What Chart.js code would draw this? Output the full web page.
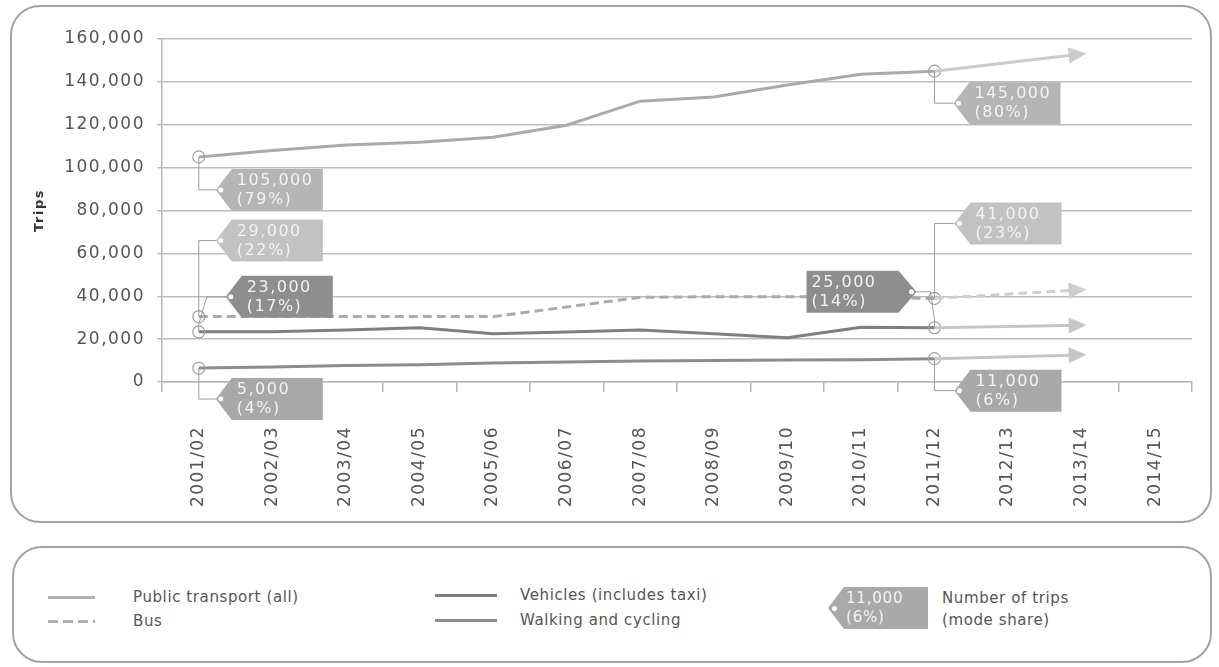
<!DOCTYPE html>
<html><head><meta charset="utf-8">
<script src="https://cdn.jsdelivr.net/npm/chart.js@4"></script>
<style>
html,body{margin:0;padding:0;background:#fff;width:1219px;height:667px;overflow:hidden;font-family:"DejaVu Sans",sans-serif;}
#wrap{position:absolute;left:0;top:0;width:1219px;height:525px;}
#frame1{position:absolute;left:10px;top:5px;width:1198px;height:514px;border:2px solid #a3a3a3;border-radius:30px;pointer-events:none;}
#frame2{position:absolute;left:12px;top:546px;width:1196px;height:113px;border:2px solid #a3a3a3;border-radius:30px;}
.lg{position:absolute;font-size:15px;color:#555;letter-spacing:0.6px;line-height:22px;white-space:nowrap}
.sw{position:absolute;height:3px;}
#tag{position:absolute;left:828px;top:587px;width:100px;height:42px;background:#a9a9a9;clip-path:polygon(16px 0,100% 0,100% 100%,16px 100%,0 50%);}
#hole{position:absolute;left:832px;top:606px;width:5px;height:5px;border-radius:50%;background:#fff;}
#tagtxt{position:absolute;left:846px;top:589px;font-size:15px;line-height:19px;color:#f2f2f2;letter-spacing:0.8px;}
</style></head>
<body>
<div id="wrap"><canvas id="c" width="1219" height="525"></canvas></div>
<div id="frame1"></div>
<div id="frame2"></div>
<div class="sw" style="left:48px;top:596px;width:47px;background:#b0b0b0"></div>
<div class="lg" style="left:133px;top:586px">Public transport (all)</div>
<div class="sw" style="left:48px;top:620px;width:47px;background:repeating-linear-gradient(to right,#b0b0b0 0 10px,transparent 10px 15px)"></div>
<div class="lg" style="left:133px;top:610px">Bus</div>
<div class="sw" style="left:435px;top:594px;width:62px;background:#7f7f7f"></div>
<div class="lg" style="left:520px;top:584px">Vehicles (includes taxi)</div>
<div class="sw" style="left:435px;top:619px;width:62px;background:#8c8c8c"></div>
<div class="lg" style="left:520px;top:609px">Walking and cycling</div>
<div id="tag"></div><div id="hole"></div>
<div id="tagtxt">11,000<br>(6%)</div>
<div class="lg" style="left:942px;top:587px">Number of trips<br>(mode share)</div>
<script>
const categories = ['2001/02','2002/03','2003/04','2004/05','2005/06','2006/07','2007/08','2008/09','2009/10','2010/11','2011/12','2012/13','2013/14','2014/15'];
const yTicks = [0,20000,40000,60000,80000,100000,120000,140000,160000];
const publicTransport = [105000,108000,110500,111800,114200,119800,131000,132900,138500,143600,145000,null,null,null];
const bus = [30500,30500,30500,30500,30500,35000,39500,39800,39800,39600,39000,null,null,null];
const vehicles = [23400,23400,24200,25300,22500,23300,24300,22500,20600,25500,25300,null,null,null];
const walking = [6500,7000,7700,8000,8900,9300,9800,10000,10300,10400,10900,null,null,null];
const ptProjection = [null,null,null,null,null,null,null,null,null,null,145000,null,153000,null];
const busProjection = [null,null,null,null,null,null,null,null,null,null,39000,null,43000,null];
const vehProjection = [null,null,null,null,null,null,null,null,null,null,25300,null,26500,null];
const walkProjection = [null,null,null,null,null,null,null,null,null,null,10900,null,12600,null];

const callouts = [
  {ds:4, idx:0, lines:['105,000','(79%)'], color:'#b5b5b5', dx:17, dy:33, dir:'left'},
  {ds:5, idx:0, lines:['29,000','(22%)'], color:'#c2c2c2', dx:17, dy:-76, dir:'left'},
  {ds:6, idx:0, lines:['23,000','(17%)'], color:'#8e8e8e', dx:27, dy:-35, dir:'left', bend:8},
  {ds:7, idx:0, lines:['5,000','(4%)'], color:'#a8a8a8', dx:17, dy:31, dir:'left'},
  {ds:4, idx:10, lines:['145,000','(80%)'], color:'#b5b5b5', dx:19, dy:32, dir:'left'},
  {ds:5, idx:10, lines:['41,000','(23%)'], color:'#c2c2c2', dx:20, dy:-75, dir:'left'},
  {ds:6, idx:10, lines:['25,000','(14%)'], color:'#8e8e8e', dx:-18, dy:-36, dir:'right', bend:-4},
  {ds:7, idx:10, lines:['11,000','(6%)'], color:'#a8a8a8', dx:20, dy:32, dir:'left'}
];

const FONT = '"DejaVu Sans", sans-serif';
const markR = ctx => (ctx.dataIndex===0 || ctx.dataIndex===10) ? 6 : 0;

const annot = {
  id:'annot',
  beforeUpdate(chart){ chart.ctx.letterSpacing='1.5px'; },
  beforeDraw(chart){ chart.ctx.letterSpacing='1.5px'; },
  afterDatasetsDraw(chart){
    const ctx = chart.ctx;
    ctx.save();
    // arrowheads on projections
    for (let d=0; d<4; d++){
      const meta = chart.getDatasetMeta(d);
      const a = meta.data[10], b = meta.data[12];
      const vx=b.x-a.x, vy=b.y-a.y, L=Math.hypot(vx,vy), ux=vx/L, uy=vy/L;
      const tx=b.x+ux*5, ty=b.y+uy*5, bx=tx-ux*18, by=ty-uy*18;
      ctx.beginPath();
      ctx.moveTo(tx,ty); ctx.lineTo(bx-uy*8,by+ux*8); ctx.lineTo(bx+uy*8,by-ux*8); ctx.closePath();
      ctx.fillStyle = chart.data.datasets[d].borderColor; ctx.fill();
    }
    // callouts
    callouts.forEach(c=>{
      const p = chart.getDatasetMeta(c.ds).data[c.idx];
      const ax=p.x, ay=p.y, tx=ax+c.dx, ty=ay+c.dy;
      ctx.strokeStyle='#9c9c9c'; ctx.lineWidth=1;
      ctx.beginPath(); ctx.moveTo(ax,ay);
      if (c.bend){ ctx.lineTo(ax, ay+(c.dy>0?8:-8)); ctx.lineTo(ax+c.bend, ty); }
      else ctx.lineTo(ax,ty);
      ctx.lineTo(tx,ty); ctx.stroke();
      let rl, rr;
      if (c.dir==='left'){ rl=tx+16; rr=rl+91; } else { rr=tx-18; rl=rr-92; }
      const top=ty-21, bot=ty+21;
      ctx.beginPath();
      if (c.dir==='left'){ ctx.moveTo(rl,top); ctx.lineTo(rr,top); ctx.lineTo(rr,bot); ctx.lineTo(rl,bot); ctx.lineTo(tx,ty); }
      else { ctx.moveTo(rl,top); ctx.lineTo(rr,top); ctx.lineTo(tx,ty); ctx.lineTo(rr,bot); ctx.lineTo(rl,bot); }
      ctx.closePath(); ctx.fillStyle=c.color; ctx.fill();
      ctx.beginPath(); ctx.arc(c.dir==='left'?tx+5:tx-5, ty, 2.5, 0, Math.PI*2); ctx.fillStyle='#fff'; ctx.fill();
      ctx.fillStyle='#f3f3f3'; ctx.font='16px '+FONT; ctx.textAlign='left'; ctx.textBaseline='middle';
      ctx.fillText(c.lines[0], rl+5, ty-9);
      ctx.fillText(c.lines[1], rl+5, ty+10);
    });
    ctx.restore();
  }
};

function mainDs(label, data, color, dash){
  return {label, data, borderColor:color, borderWidth:3, borderDash:dash||[], tension:0, fill:false,
    pointRadius:markR, pointHoverRadius:0, pointBorderColor:'#a0a0a0', pointBorderWidth:1.2,
    pointBackgroundColor:'rgba(255,255,255,0)', spanGaps:false};
}
function projDs(label, data, color, dash){
  return {label, data, borderColor:color, borderWidth:3, borderDash:dash||[], tension:0, fill:false,
    pointRadius:0, spanGaps:true};
}

new Chart(document.getElementById('c'), {
  type:'line',
  data:{ labels:categories, datasets:[
    projDs('PT projection', ptProjection, '#cbcbcb'),
    projDs('Bus projection', busProjection, '#cfcfcf', [9,5]),
    projDs('Vehicles projection', vehProjection, '#c6c6c6'),
    projDs('Walking projection', walkProjection, '#c6c6c6'),
    mainDs('Public transport (all)', publicTransport, '#aaaaaa'),
    mainDs('Bus', bus, '#ababab', [9,5]),
    mainDs('Vehicles (includes taxi)', vehicles, '#7f7f7f'),
    mainDs('Walking and cycling', walking, '#8c8c8c')
  ]},
  options:{
    responsive:false, animation:false, devicePixelRatio:1,
    layout:{padding:{left:28, right:27, top:39, bottom:0}},
    plugins:{legend:{display:false}, tooltip:{enabled:false}},
    scales:{
      x:{ offset:true,
        grid:{offset:true, drawOnChartArea:false, drawTicks:true, tickLength:10, color:'#b5b5b5', lineWidth:1.5},
        border:{display:true, color:'#b8b8b8', width:1.5},
        ticks:{maxRotation:90, minRotation:90, padding:34, color:'#555', autoSkip:false, font:{family:FONT, size:17}},
        afterFit(s){ s.height = 143; }
      },
      y:{ min:0, max:160000,
        afterBuildTicks(s){ s.ticks = yTicks.map(v=>({value:v})); },
        ticks:{ callback:v=>v.toLocaleString('en-US'), padding:12, color:'#555', font:{family:FONT, size:17}},
        grid:{color:'#bdbdbd', lineWidth:1.5, tickLength:5},
        border:{display:true, color:'#b8b8b8', width:1.5},
        title:{display:true, text:'Trips', color:'#333', padding:{top:4,bottom:0}, font:{family:FONT, size:13, weight:'bold'}},
        afterFit(s){ s.width = 134; }
      }
    }
  },
  plugins:[annot]
});
</script>
</body></html>
